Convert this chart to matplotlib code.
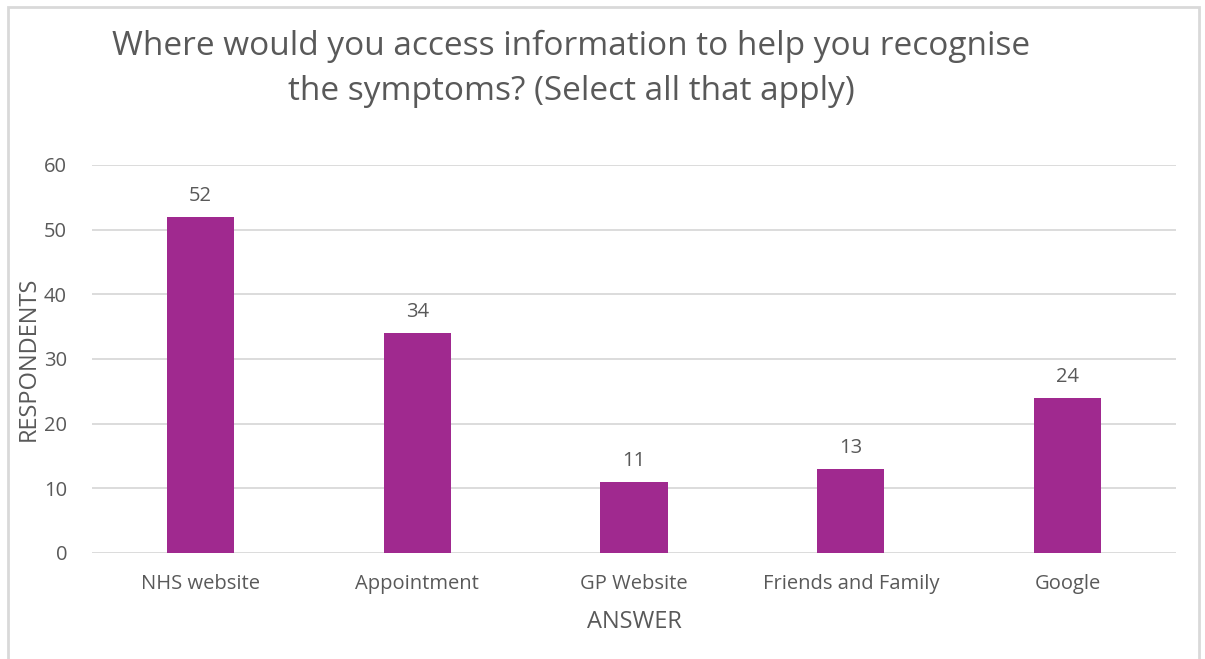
import matplotlib.pyplot as plt
from matplotlib.patches import Rectangle

# Datos
answers = ['NHS website', 'Appointment', 'GP Website', 'Friends and Family', 'Google']
respondents = [52, 34, 11, 13, 24]

bar_color = '#A0298F'
text_color = '#595959'
grid_color = '#D9D9D9'

plt.rcParams['font.family'] = ['Open Sans', 'DejaVu Sans']

fig = plt.figure(figsize=(12.05, 6.59), dpi=100)
ax = fig.add_axes([92 / 1205, 1 - 553 / 659, 1084 / 1205, 388 / 659])

x = range(len(answers))
bars = ax.bar(x, respondents, width=0.31, color=bar_color, zorder=3)

for rect, v in zip(bars, respondents):
    ax.annotate(str(v), (rect.get_x() + rect.get_width() / 2, v),
                xytext=(0, 8), textcoords='offset points',
                ha='center', va='bottom', fontsize=14.5, color=text_color)

ax.set_xlim(-0.5, len(answers) - 0.5)
ax.set_ylim(0, 60)
ax.set_yticks(range(0, 61, 10))
ax.set_xticks(list(x))
ax.set_xticklabels(answers)
ax.tick_params(axis='both', length=0, labelsize=14.5, labelcolor=text_color)
ax.tick_params(axis='x', pad=15)
ax.tick_params(axis='y', pad=18)
ax.grid(axis='y', color=grid_color, linewidth=1.3, zorder=0)
for s in ax.spines.values():
    s.set_visible(False)

ax.set_xlabel('ANSWER', fontsize=17, color=text_color, labelpad=12)
ax.set_ylabel('RESPONDENTS', fontsize=17, color=text_color, labelpad=2)

fig.text(571 / 1205, 1 - 69 / 659, 'Where would you access information to help you recognise\nthe symptoms? (Select all that apply)',
         ha='center', va='center', fontsize=24, color=text_color, linespacing=1.5)

# Marco del gráfico
fig.patches.append(Rectangle((8 / 1205, -0.1), 1191 / 1205, 1.1 - 7 / 659, transform=fig.transFigure,
                             fill=False, edgecolor=grid_color, linewidth=2))

fig.savefig('out.png', dpi=100)
